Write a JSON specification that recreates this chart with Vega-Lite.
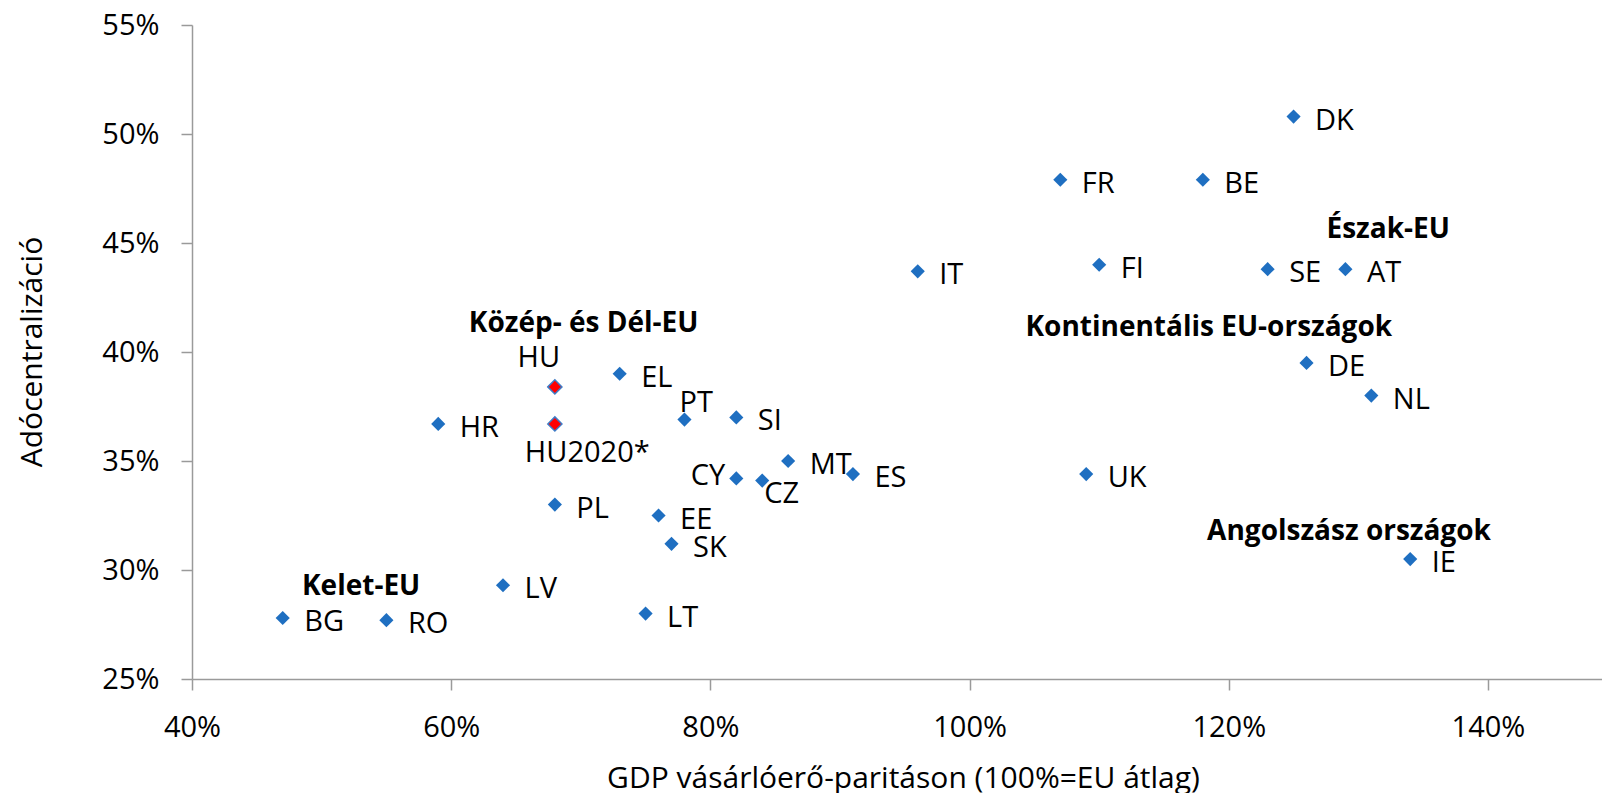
{
  "$schema": "https://vega.github.io/schema/vega-lite/v6.json",
  "width": 1410,
  "height": 654,
  "autosize": {"type": "none"},
  "padding": {"left": 192, "top": 25, "right": 0, "bottom": 114},
  "config": {"view": {"stroke": null}, "font": "Open Sans", "text": {"font": "Open Sans"}},
  "datasets": {
    "countries": [
      {"country": "DK", "gdp": 1.25, "tax": 0.508},
      {"country": "FR", "gdp": 1.07, "tax": 0.479},
      {"country": "BE", "gdp": 1.18, "tax": 0.479},
      {"country": "IT", "gdp": 0.96, "tax": 0.437},
      {"country": "FI", "gdp": 1.10, "tax": 0.440},
      {"country": "SE", "gdp": 1.23, "tax": 0.438},
      {"country": "AT", "gdp": 1.29, "tax": 0.438},
      {"country": "DE", "gdp": 1.26, "tax": 0.395},
      {"country": "NL", "gdp": 1.31, "tax": 0.380},
      {"country": "UK", "gdp": 1.09, "tax": 0.344},
      {"country": "IE", "gdp": 1.34, "tax": 0.305},
      {"country": "SI", "gdp": 0.82, "tax": 0.370},
      {"country": "MT", "gdp": 0.86, "tax": 0.350},
      {"country": "CY", "gdp": 0.82, "tax": 0.342},
      {"country": "CZ", "gdp": 0.84, "tax": 0.341},
      {"country": "ES", "gdp": 0.91, "tax": 0.344},
      {"country": "HU", "gdp": 0.68, "tax": 0.384},
      {"country": "HU2020*", "gdp": 0.68, "tax": 0.367},
      {"country": "EL", "gdp": 0.73, "tax": 0.390},
      {"country": "PT", "gdp": 0.78, "tax": 0.369},
      {"country": "HR", "gdp": 0.59, "tax": 0.367},
      {"country": "PL", "gdp": 0.68, "tax": 0.330},
      {"country": "EE", "gdp": 0.76, "tax": 0.325},
      {"country": "SK", "gdp": 0.77, "tax": 0.312},
      {"country": "LV", "gdp": 0.64, "tax": 0.293},
      {"country": "LT", "gdp": 0.75, "tax": 0.280},
      {"country": "BG", "gdp": 0.47, "tax": 0.278},
      {"country": "RO", "gdp": 0.55, "tax": 0.277}
    ],
    "groups": [
      {"group": "Észak-EU", "gdp": 1.323, "tax": 0.4523},
      {"group": "Kontinentális EU-országok", "gdp": 1.1846, "tax": 0.4073},
      {"group": "Angolszász országok", "gdp": 1.2928, "tax": 0.3138},
      {"group": "Kelet-EU", "gdp": 0.5305, "tax": 0.2885},
      {"group": "Közép- és Dél-EU", "gdp": 0.7022, "tax": 0.4093}
    ]
  },
  "encoding": {
    "x": {
      "field": "gdp", "type": "quantitative",
      "scale": {"domain": [0.4, 1.488], "nice": false, "zero": false},
      "axis": {
        "values": [0.4, 0.6, 0.8, 1.0, 1.2, 1.4], "format": ".0%",
        "grid": false, "tickSize": 11, "labelPadding": 23,
        "domainColor": "#9a9a9a", "tickColor": "#9a9a9a", "domainWidth": 1.5, "tickWidth": 1.5,
        "labelFont": "Open Sans", "labelFontSize": 29, "labelColor": "#000000",
        "labelFlush": false, "labelOverlap": false,
        "title": "GDP vásárlóerő-paritáson (100%=EU átlag)",
        "titleFont": "Open Sans", "titleFontSize": 30, "titleFontWeight": "normal", "titleColor": "#000000",
        "titleX": 711, "titleY": 108, "titleAlign": "center", "titleBaseline": "alphabetic"
      }
    },
    "y": {
      "field": "tax", "type": "quantitative",
      "scale": {"domain": [0.25, 0.55], "nice": false, "zero": false},
      "axis": {
        "values": [0.25, 0.30, 0.35, 0.40, 0.45, 0.50, 0.55], "format": ".0%",
        "grid": false, "tickSize": 11, "labelPadding": 22,
        "domainColor": "#9a9a9a", "tickColor": "#9a9a9a", "domainWidth": 1.5, "tickWidth": 1.5,
        "labelFont": "Open Sans", "labelFontSize": 29, "labelColor": "#000000",
        "labelFlush": false, "labelOverlap": false,
        "title": "Adócentralizáció",
        "titleFont": "Open Sans", "titleFontSize": 30, "titleFontWeight": "normal", "titleColor": "#000000",
        "titleAngle": -90, "titleX": -151, "titleY": 326.5, "titleAlign": "center", "titleBaseline": "alphabetic"
      }
    }
  },
  "layer": [
    {
      "data": {"name": "countries"},
      "transform": [{"filter": "datum.country != 'HU' && datum.country != 'HU2020*'"}],
      "mark": {"type": "point", "shape": "diamond", "filled": true, "size": 200, "opacity": 1, "color": "#1f6fc1"}
    },
    {
      "data": {"name": "countries"},
      "transform": [{"filter": "datum.country == 'HU' || datum.country == 'HU2020*'"}],
      "mark": {"type": "point", "shape": "diamond", "filled": true, "size": 200, "opacity": 1, "fill": "#ff0000", "stroke": "#3f7cc6", "strokeWidth": 1.5}
    },
    {
      "data": {"name": "countries"},
      "transform": [{"filter": "indexof(['HU','HU2020*','PT','CY','CZ'], datum.country) < 0"}],
      "mark": {"type": "text", "align": "left", "baseline": "alphabetic", "dx": 21.5, "dy": 13, "fontSize": 29, "font": "Open Sans", "color": "#000000"},
      "encoding": {"text": {"field": "country"}}
    },
    {
      "data": {"name": "countries"},
      "transform": [{"filter": "datum.country == 'HU'"}],
      "mark": {"type": "text", "align": "center", "baseline": "alphabetic", "dx": -16, "dy": -20, "fontSize": 29, "font": "Open Sans", "color": "#000000"},
      "encoding": {"text": {"field": "country"}}
    },
    {
      "data": {"name": "countries"},
      "transform": [{"filter": "datum.country == 'HU2020*'"}],
      "mark": {"type": "text", "align": "left", "baseline": "alphabetic", "dx": -30, "dy": 38, "fontSize": 29, "font": "Open Sans", "color": "#000000"},
      "encoding": {"text": {"field": "country"}}
    },
    {
      "data": {"name": "countries"},
      "transform": [{"filter": "datum.country == 'PT'"}],
      "mark": {"type": "text", "align": "left", "baseline": "alphabetic", "dx": -5, "dy": -8, "fontSize": 29, "font": "Open Sans", "color": "#000000"},
      "encoding": {"text": {"field": "country"}}
    },
    {
      "data": {"name": "countries"},
      "transform": [{"filter": "datum.country == 'CY'"}],
      "mark": {"type": "text", "align": "right", "baseline": "alphabetic", "dx": -11, "dy": 7, "fontSize": 29, "font": "Open Sans", "color": "#000000"},
      "encoding": {"text": {"field": "country"}}
    },
    {
      "data": {"name": "countries"},
      "transform": [{"filter": "datum.country == 'CZ'"}],
      "mark": {"type": "text", "align": "left", "baseline": "alphabetic", "dx": 2, "dy": 22, "fontSize": 29, "font": "Open Sans", "color": "#000000"},
      "encoding": {"text": {"field": "country"}}
    },
    {
      "data": {"name": "groups"},
      "mark": {"type": "text", "align": "center", "baseline": "alphabetic", "fontSize": 28, "fontWeight": "bold", "font": "Open Sans", "color": "#000000"},
      "encoding": {"text": {"field": "group"}}
    }
  ]
}
